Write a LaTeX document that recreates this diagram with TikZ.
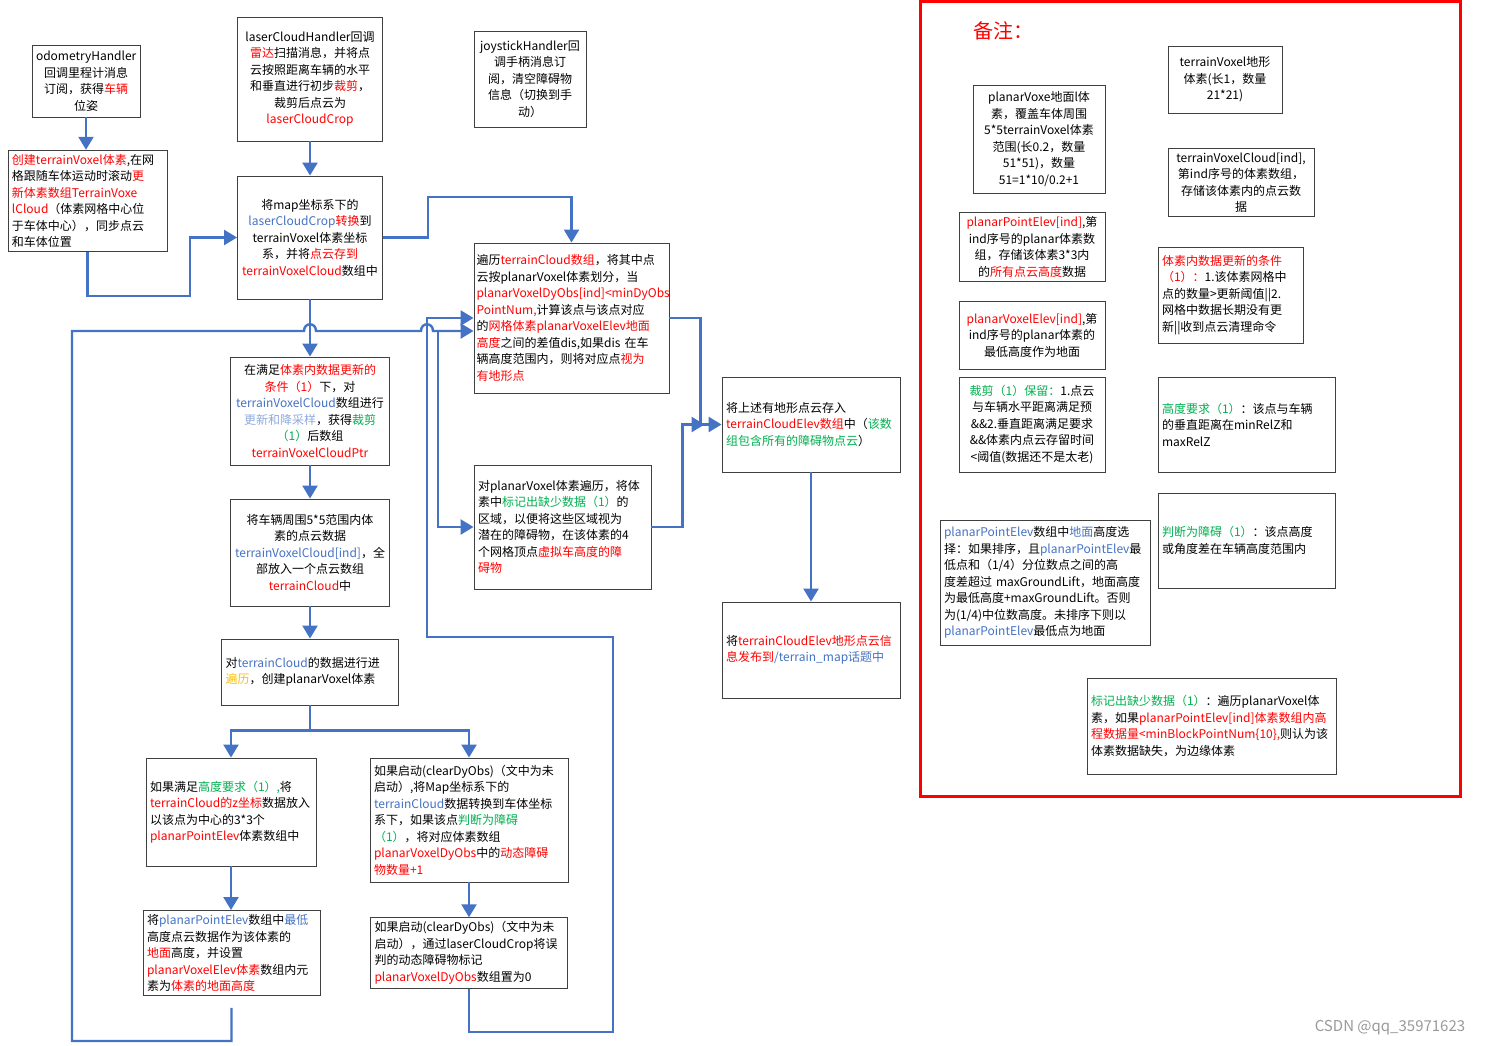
\documentclass[tikz,border=0pt]{standalone}
\usepackage{fontspec}
\setmainfont{Noto Sans CJK SC}
\usepackage{tikz}
\usetikzlibrary{arrows.meta,positioning,calc}
\definecolor{myred}{RGB}{255,0,0}
\definecolor{myblue}{RGB}{68,114,196}
\definecolor{mygreen}{RGB}{0,176,80}
\definecolor{mylblue}{RGB}{143,170,220}
\definecolor{myorange}{RGB}{255,192,0}
\definecolor{arrowblue}{RGB}{68,114,196}
\def \redt #1{\textcolor{myred}{#1}}
\def \bluet #1{\textcolor{myblue}{#1}}
\def \greent #1{\textcolor{mygreen}{#1}}
\def \lbluet #1{\textcolor{mylblue}{#1}}
\def \oranget #1{\textcolor{myorange}{#1}}

\begin{document}
\begin{tikzpicture}[x=1pt, y=-1pt,
    box/.style={draw=black!75, line width=0.9pt, fill=white, inner sep=4pt, font=\fontsize{12}{16.5}\selectfont},
    flow/.style={draw=arrowblue, line width=2.4pt, -{Triangle[length=13pt,width=15pt]}}]
        \useasboundingbox (0,0) rectangle (1491,1046);

        % Callbacks
        \node[box, text width=100pt, minimum height=72pt, align=center] (odom) at (86,81)
            {odometryHandler\\回调里程计消息\\订阅，获得\redt{车辆}\\位姿};
        \node[box, text width=151pt, minimum height=96pt, align=left] (create) at (87.5,201)
            {\redt{创建terrainVoxel体素},在网\\格跟随车体运动时滚动\redt{更}\\\redt{新体素数组TerrainVoxe}\\\redt{lCloud}（体素网格中心位\\于车体中心），同步点云\\和车体位置};
        \node[box, text width=137pt, minimum height=124pt, align=center] (laser) at (310,79)
            {laserCloudHandler回调\\\redt{雷达}扫描消息，并将点\\云按照距离车辆的水平\\和垂直进行初步\redt{裁剪}，\\裁剪后点云为\\\redt{laserCloudCrop}};
        \node[box, text width=104pt, minimum height=96pt, align=center] (joy) at (530,79)
            {joystickHandler回\\调手柄消息订\\阅，清空障碍物\\信息（切换到手\\动）};

        % Main column
        \node[box, text width=137pt, minimum height=123pt, align=center] (mapconv) at (310,237.5)
            {将map坐标系下的\\\bluet{laserCloudCrop}\redt{转换}到\\terrainVoxel体素坐标\\系，并将\redt{点云存到}\\\redt{terrainVoxelCloud}数组中};
        \node[box, text width=151pt, minimum height=108pt, align=center] (upd) at (310,411)
            {在满足\redt{体素内数据更新的}\\\redt{条件（1）}下，对\\\bluet{terrainVoxelCloud}数组进行\\\lbluet{更新和降采样}，获得\greent{裁剪}\\\greent{（1）}后数组\\\redt{terrainVoxelCloudPtr}};
        \node[box, text width=151pt, minimum height=107pt, align=center] (near) at (310,552.5)
            {将车辆周围5*5范围内体\\素的点云数据\\\bluet{terrainVoxelCloud[ind]}，全\\部放入一个点云数组\\\redt{terrainCloud}中};
        \node[box, text width=169pt, minimum height=66pt, align=left] (plan) at (310,672)
            {对\bluet{terrainCloud}的数据进行进\\\oranget{遍历}，创建planarVoxel体素};

        % Ground height branch
        \node[box, text width=162pt, minimum height=108pt, align=left] (hreq) at (231,812)
            {如果满足\greent{高度要求（1）,}将\\\redt{terrainCloud的z坐标}数据放入\\以该点为中心的3*3个\\\redt{planarPointElev}体素数组中};
        \node[box, text width=169pt, minimum height=84pt, align=left] (elev) at (231.5,953)
            {将\bluet{planarPointElev}数组中\bluet{最低}\\高度点云数据作为该体素的\\\redt{地面}高度，并设置\\\redt{planarVoxelElev体素}数组内元\\素为\redt{体素的地面高度}};

        % Dynamic obstacle branch
        \node[box, text width=190pt, minimum height=124pt, align=left] (dyo) at (469,820)
            {如果启动(clearDyObs)（文中为未\\启动）,将Map坐标系下的\\\bluet{terrainCloud}数据转换到车体坐标\\系下，如果该点\greent{判断为障碍}\\\greent{（1）}，将对应体素数组\\\redt{planarVoxelDyObs}中的\redt{动态障碍}\\\redt{物数量+1}};
        \node[box, text width=189pt, minimum height=68pt, align=left] (dyc) at (469,953)
            {如果启动(clearDyObs)（文中为未\\启动），通过laserCloudCrop将误\\判的动态障碍物标记\\\redt{planarVoxelDyObs}数组置为0};

        % Terrain points
        \node[box, text width=190pt, inner xsep=2.5pt, minimum height=150pt, align=left] (trav) at (571.5,318)
            {遍历\redt{terrainCloud数组}，将其中点\\云按planarVoxel体素划分，当\\\redt{planarVoxelDyObs[ind]<minDyObs}\\\redt{PointNum,}计算该点与该点对应\\的\redt{网格体素planarVoxelElev地面}\\\redt{高度}之间的差值dis,如果dis 在车\\辆高度范围内，则将对应点\redt{视为}\\\redt{有地形点}};
        \node[box, text width=169pt, minimum height=124pt, align=left] (miss) at (562.5,527)
            {对planarVoxel体素遍历，将体\\素中\greent{标记出缺少数据（1）}的\\区域，以便将这些区域视为\\潜在的障碍物，在该体素的4\\个网格顶点\redt{虚拟车高度的障}\\\redt{碍物}};
        \node[box, text width=170pt, minimum height=95pt, align=left] (store) at (811,424.5)
            {将上述有地形点云存入\\\redt{terrainCloudElev数组}中（\greent{该数}\\\greent{组包含所有的障碍物点云}）};
        \node[box, text width=170pt, minimum height=96pt, align=left] (pub) at (811,650)
            {将\redt{terrainCloudElev地形点云信}\\\redt{息发布到}\bluet{/terrain\_map话题中}};

        % Arrows
        \draw[flow] (odom.south) -- (odom.south |- create.north);
        \draw[flow] (create.south) |- (190,296) |- (mapconv.west);
        \draw[flow] (laser) -- (mapconv);
        \draw[flow] (mapconv.east) -| (428,197) -| (trav.north);
        \draw[flow] (mapconv) -- (upd);
        \draw[flow] (upd) -- (near);
        \draw[flow] (near) -- (plan);
        \draw[flow] (plan.south) -- ++(0,25) -| (hreq.north);
        \draw[flow] (plan.south) -- ++(0,25) -| (dyo.north);
        \draw[flow] (hreq.south) -- (hreq.south |- elev.north);
        \draw[flow] (dyo) -- (dyc);
        \draw[flow] (trav.east) -- ++(31,0) |- (store.west);
        \draw[flow] (miss.east) -- ++(31,0) |- ([xshift=-17pt]store.west);
        \draw[flow] (store) -- (pub);

        % Loop back from elev, with hops
        \draw[flow] ([yshift=-12pt]elev.south) -- (elev.south |- 0,1041) -| (72,331) -- (304,331)
            .. controls (304,322) and (316,322) .. (316,331) -- (421,331)
            .. controls (421,322) and (433,322) .. (433,331) -- (trav.west |- 0,331);
        \draw[flow] (438,331) |- (miss.west);
        \draw[flow] (dyc.south) |- (613,1032) |- (427,637) |- (trav.west);

        % Remarks
        \draw[myred, line width=3pt] (920,1.5) rectangle (1460,796);
        \node[text=myred, font=\fontsize{20}{24}\selectfont] (remark) at (1003,31) {备注：};
        \node[box, text width=124pt, minimum height=108pt, align=center] (pvox) at (1039,139)
            {planarVoxe地面l体\\素，覆盖车体周围\\5*5terrainVoxel体素\\范围(长0.2，数量\\51*51)，数量\\51=1*10/0.2+1};
        \node[box, text width=106pt, minimum height=67pt, align=center] (tvox) at (1225,79.5)
            {terrainVoxel地形\\体素(长1，数量\\21*21)};
        \node[box, text width=138pt, minimum height=67pt, align=center] (tvcloud) at (1241,182.5)
            {terrainVoxelCloud[ind],\\第ind序号的体素数组，\\存储该体素内的点云数\\据};
        \node[box, text width=138pt, minimum height=68pt, align=center] (ppelev) at (1032,247)
            {\redt{planarPointElev[ind]},第\\ind序号的planar体素数\\组，存储该体素3*3内\\的\redt{所有点云高度}数据};
        \node[box, text width=137pt, minimum height=96pt, align=left] (updcond) at (1230.5,295)
            {\redt{体素内数据更新的条件}\\\redt{（1）：}1.该体素网格中\\点的数量>更新阈值||2.\\网格中数据长期没有更\\新||收到点云清理命令};
        \node[box, text width=138pt, minimum height=68pt, align=center] (pvelev) at (1032,335)
            {\redt{planarVoxelElev[ind]},第\\ind序号的planar体素的\\最低高度作为地面};
        \node[box, text width=138pt, minimum height=95pt, align=center] (crop) at (1032,424.5)
            {\greent{裁剪（1）保留：}1.点云\\与车辆水平距离满足预\\\&\&2.垂直距离满足要求\\\&\&体素内点云存留时间\\<阈值(数据还不是太老)};
        \node[box, text width=169pt, minimum height=95pt, align=left] (hgt) at (1246.5,424.5)
            {\greent{高度要求（1）}：该点与车辆\\的垂直距离在minRelZ和\\maxRelZ};
        \node[box, text width=202pt, minimum height=125pt, align=left] (gsel) at (1045,582.5)
            {\bluet{planarPointElev}数组中\bluet{地面}高度选\\择：如果排序，且\bluet{planarPointElev}最\\低点和（1/4）分位数点之间的高\\度差超过 maxGroundLift，地面高度\\为最低高度+maxGroundLift。否则\\为(1/4)中位数高度。未排序下则以\\\bluet{planarPointElev}最低点为地面};
        \node[box, text width=169pt, minimum height=95pt, align=left] (obst) at (1246.5,540.5)
            {\greent{判断为障碍（1）}：该点高度\\或角度差在车辆高度范围内};
        \node[box, text width=241pt, minimum height=96pt, align=left] (lack) at (1211.5,726)
            {\greent{标记出缺少数据（1）}：遍历planarVoxel体\\素，如果\redt{planarPointElev[ind]体素数组内高}\\\redt{程数据量<minBlockPointNum\{10\},}则认为该\\体素数据缺失，为边缘体素};

        \node[text=black!40, font=\fontsize{15}{18}\selectfont] (mark) at (1390,1028) {CSDN @qq\_35971623};
    \end{tikzpicture}
\end{document}
